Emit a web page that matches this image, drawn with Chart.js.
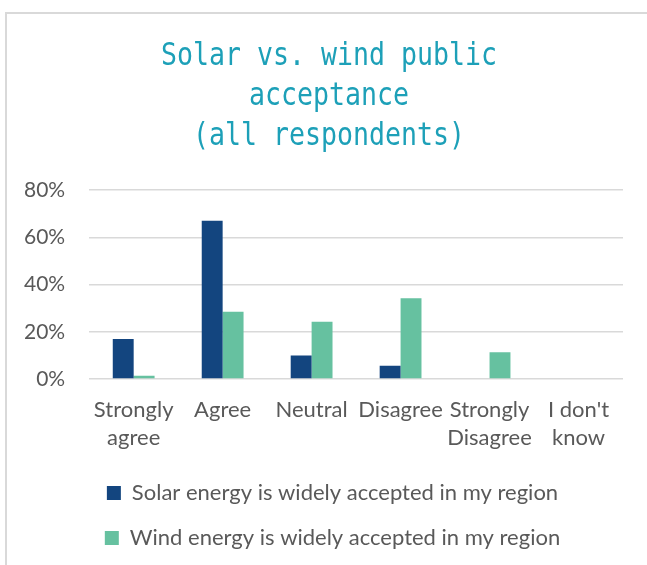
<!DOCTYPE html>
<html><head><meta charset="utf-8">
<script src="https://cdn.jsdelivr.net/npm/chart.js@4/dist/chart.umd.min.js"></script>
<style>
html,body{margin:0;padding:0;background:#fff;}
#wrap{position:relative;width:647px;height:565px;overflow:hidden;}
#frame{position:absolute;left:5px;top:12px;width:700px;height:700px;border-left:2px solid #d9d9d9;border-top:2px solid #d9d9d9;box-sizing:border-box;}
canvas{position:absolute;left:0;top:0;}
</style></head>
<body><div id="wrap"><div id="frame"></div><canvas id="c" width="647" height="565"></canvas></div>
<script>
const titleLines = ["Solar vs. wind public", "acceptance", "(all respondents)"];
const categories = [["Strongly", "agree"], "Agree", "Neutral", "Disagree", ["Strongly", "Disagree"], ["I don't", "know"]];
const solarValues = [17, 67, 10, 5.7, 0, 0];
const windValues = [1.4, 28.5, 24.3, 34.2, 11.4, 0];
const yTicks = [0, 20, 40, 60, 80];
const seriesNames = ["Solar energy is widely accepted in my region", "Wind energy is widely accepted in my region"];

const textColor = '#595959';
const labelFont = {family: 'Lato', size: 22, lineHeight: 1.27};

const titlePlugin = {
  id: 'monoTitle',
  afterLayout(chart) {
    chart.legend.left += 21;
    chart.legend.right += 21;
  },
  afterDraw(chart) {
    const ctx = chart.ctx;
    ctx.save();
    ctx.fillStyle = '#1da0b8';
    ctx.font = '32px "DejaVu Sans Mono"';
    ctx.textAlign = 'center';
    ctx.textBaseline = 'alphabetic';
    const cx = (chart.width + 11) / 2;
    titleLines.forEach((t, i) => {
      ctx.save();
      ctx.translate(cx, 65 + 40 * i);
      ctx.scale(0.83, 1);
      ctx.fillText(t, 0, 0);
      ctx.restore();
    });
    ctx.restore();
  }
};

new Chart(document.getElementById('c'), {
  type: 'bar',
  data: {
    labels: categories,
    datasets: [
      {label: seriesNames[0], data: solarValues, backgroundColor: '#13457f', borderWidth: 0},
      {label: seriesNames[1], data: windValues, backgroundColor: '#66c1a0', borderWidth: 0}
    ]
  },
  options: {
    responsive: false,
    devicePixelRatio: 1,
    animation: false,
    categoryPercentage: 0.47,
    barPercentage: 1.0,
    layout: {padding: {top: 190, left: 0, right: 24, bottom: 6}},
    plugins: {
      title: {display: false},
      tooltip: {enabled: false},
      legend: {
        position: 'bottom',
        labels: {boxWidth: 14, boxHeight: 14, padding: 23, color: textColor, font: {family: 'Lato', size: 22}}
      }
    },
    scales: {
      x: {
        grid: {display: false},
        border: {display: false},
        afterFit: s => { s.height -= 2; },
        ticks: {color: textColor, font: labelFont, padding: 9, maxRotation: 0, minRotation: 0, autoSkip: false}
      },
      y: {
        min: 0, max: 80,
        afterBuildTicks: s => { s.ticks = yTicks.map(v => ({value: v})); },
        grid: {color: '#d9d9d9', lineWidth: 1.5, drawTicks: false},
        border: {display: false},
        ticks: {color: textColor, font: {family: 'Lato', size: 21}, padding: 24, callback: v => v + '%'}
      }
    }
  },
  plugins: [titlePlugin]
});
</script>
</body></html>
